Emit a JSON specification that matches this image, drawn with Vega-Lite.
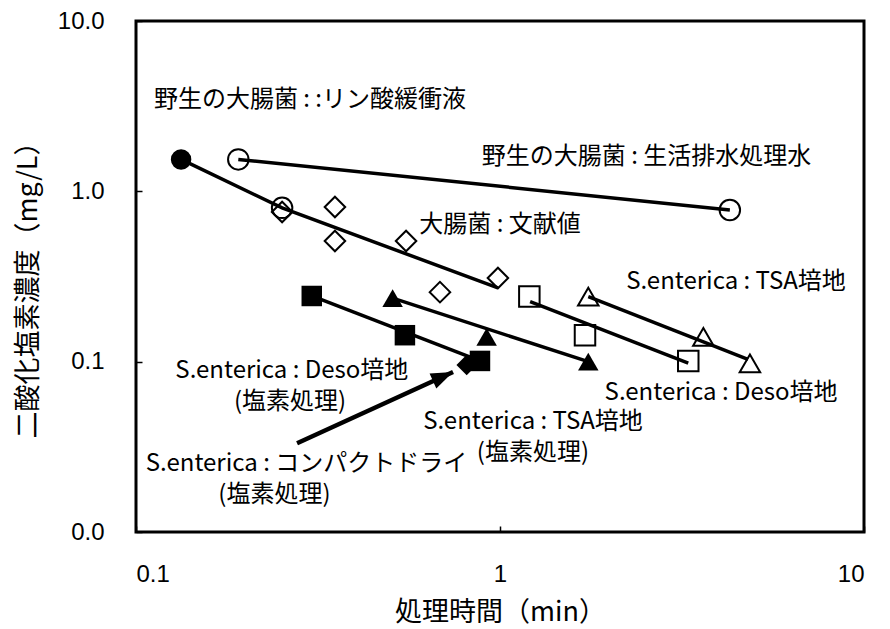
{
  "$schema": "https://vega.github.io/schema/vega-lite/v6.json",
  "autosize": {"type": "none"},
  "padding": {"left": 136, "top": 21, "right": 26, "bottom": 97},
  "width": 728,
  "height": 511,
  "background": "white",
  "config": {
    "view": {"stroke": "black", "strokeWidth": 3},
    "axis": {
      "domain": false,
      "grid": false,
      "ticks": true,
      "tickSize": -6,
      "tickColor": "black",
      "tickWidth": 1.5,
      "labelFont": "Liberation Sans",
      "labelFontSize": 24,
      "labelColor": "black",
      "titleFont": "Noto Sans CJK JP",
      "titleFontSize": 27,
      "titleFontWeight": "normal",
      "titleColor": "black"
    }
  },
  "datasets": {
    "points": [
      {"series": "野生の大腸菌:リン酸緩衝液", "x": 0.133, "y": 1.54},
      {"series": "野生の大腸菌:リン酸緩衝液", "x": 0.252, "y": 0.80},
      {"series": "野生の大腸菌:生活排水処理水", "x": 0.191, "y": 1.54},
      {"series": "野生の大腸菌:生活排水処理水", "x": 4.28, "y": 0.777},
      {"series": "大腸菌:文献値", "x": 0.252, "y": 0.756},
      {"series": "大腸菌:文献値", "x": 0.352, "y": 0.809},
      {"series": "大腸菌:文献値", "x": 0.352, "y": 0.511},
      {"series": "大腸菌:文献値", "x": 0.552, "y": 0.511},
      {"series": "大腸菌:文献値", "x": 0.684, "y": 0.256},
      {"series": "大腸菌:文献値", "x": 0.987, "y": 0.31},
      {"series": "S.enterica:TSA培地", "x": 1.748, "y": 0.241},
      {"series": "S.enterica:TSA培地", "x": 3.62, "y": 0.140},
      {"series": "S.enterica:TSA培地", "x": 4.86, "y": 0.0978},
      {"series": "S.enterica:Deso培地", "x": 1.204, "y": 0.241},
      {"series": "S.enterica:Deso培地", "x": 1.712, "y": 0.143},
      {"series": "S.enterica:Deso培地", "x": 3.29, "y": 0.101},
      {"series": "S.enterica:TSA培地(塩素処理)", "x": 0.507, "y": 0.236},
      {"series": "S.enterica:TSA培地(塩素処理)", "x": 0.919, "y": 0.140},
      {"series": "S.enterica:TSA培地(塩素処理)", "x": 1.748, "y": 0.100},
      {"series": "S.enterica:コンパクトドライ(塩素処理)", "x": 0.810, "y": 0.0956},
      {"series": "S.enterica:Deso培地(塩素処理)", "x": 0.304, "y": 0.243},
      {"series": "S.enterica:Deso培地(塩素処理)", "x": 0.548, "y": 0.143},
      {"series": "S.enterica:Deso培地(塩素処理)", "x": 0.881, "y": 0.101}
    ],
    "fits": [
      {"series": "野生の大腸菌:リン酸緩衝液", "x": 0.133, "y": 1.54},
      {"series": "野生の大腸菌:リン酸緩衝液", "x": 0.252, "y": 0.80},
      {"series": "野生の大腸菌:リン酸緩衝液", "x": 0.987, "y": 0.271},
      {"series": "野生の大腸菌:生活排水処理水", "x": 0.191, "y": 1.54},
      {"series": "野生の大腸菌:生活排水処理水", "x": 4.28, "y": 0.777},
      {"series": "S.enterica:TSA培地", "x": 1.748, "y": 0.241},
      {"series": "S.enterica:TSA培地", "x": 4.80, "y": 0.103},
      {"series": "S.enterica:Deso培地", "x": 1.21, "y": 0.225},
      {"series": "S.enterica:Deso培地", "x": 3.29, "y": 0.098},
      {"series": "S.enterica:TSA培地(塩素処理)", "x": 0.507, "y": 0.236},
      {"series": "S.enterica:TSA培地(塩素処理)", "x": 1.748, "y": 0.100},
      {"series": "S.enterica:Deso培地(塩素処理)", "x": 0.304, "y": 0.243},
      {"series": "S.enterica:Deso培地(塩素処理)", "x": 0.881, "y": 0.101}
    ],
    "arrow": [
      {"x": 0.277, "y": 0.0332, "x2": 0.743, "y2": 0.087}
    ],
    "labels": [
      {"label": "野生の大腸菌 : :リン酸緩衝液", "x": 0.3006, "y": 3.44},
      {"label": "野生の大腸菌 : 生活排水処理水", "x": 2.526, "y": 1.59},
      {"label": "大腸菌 : 文献値", "x": 1.0, "y": 0.634},
      {"label": "S.enterica : TSA培地", "x": 4.45, "y": 0.2935},
      {"label": "S.enterica : Deso培地", "x": 4.05, "y": 0.0655},
      {"label": "S.enterica : TSA培地", "x": 1.232, "y": 0.0442},
      {"label": "(塩素処理)", "x": 1.232, "y": 0.0291},
      {"label": "S.enterica : Deso培地", "x": 0.268, "y": 0.0882},
      {"label": "(塩素処理)", "x": 0.265, "y": 0.058},
      {"label": "S.enterica : コンパクトドライ", "x": 0.294, "y": 0.02507},
      {"label": "(塩素処理)", "x": 0.240, "y": 0.0165}
    ]
  },
  "encoding": {
    "x": {
      "field": "x",
      "type": "quantitative",
      "scale": {"type": "log", "domain": [0.1, 10]},
      "axis": {
        "values": [0.1, 1, 10],
        "format": "~g",
        "labelPadding": 36,
        "labelBaseline": "top",
        "title": "処理時間（min）",
        "titleBaseline": "middle",
        "titleY": 80
      }
    },
    "y": {
      "field": "y",
      "type": "quantitative",
      "scale": {"type": "log", "domain": [0.01, 10]},
      "axis": {
        "values": [0.01, 0.1, 1, 10],
        "format": ".1f",
        "labelPadding": 38,
        "title": "二酸化塩素濃度（mg/L）",
        "titleBaseline": "middle",
        "titleAngle": 270,
        "titleX": -108,
        "titleY": 262
      }
    }
  },
  "layer": [
    {
      "data": {"name": "fits"},
      "mark": {"type": "line", "color": "black", "strokeWidth": 3.5},
      "encoding": {"detail": {"field": "series"}}
    },
    {
      "data": {"name": "points"},
      "transform": [
        {"filter": "indexof(['野生の大腸菌:生活排水処理水', '大腸菌:文献値', 'S.enterica:TSA培地', 'S.enterica:Deso培地'], datum.series) >= 0 || (datum.series === '野生の大腸菌:リン酸緩衝液' && datum.x > 0.2)"}
      ],
      "mark": {"type": "point", "filled": false, "color": "black", "strokeWidth": 2, "size": 420, "opacity": 1},
      "encoding": {
        "shape": {
          "field": "series",
          "scale": {
            "domain": ["野生の大腸菌:リン酸緩衝液", "野生の大腸菌:生活排水処理水", "大腸菌:文献値", "S.enterica:TSA培地", "S.enterica:Deso培地", "S.enterica:TSA培地(塩素処理)", "S.enterica:Deso培地(塩素処理)", "S.enterica:コンパクトドライ(塩素処理)"],
            "range": ["circle", "circle", "diamond", "triangle-up", "square", "triangle-up", "square", "diamond"]
          },
          "legend": null
        }
      }
    },
    {
      "data": {"name": "points"},
      "transform": [
        {"filter": "indexof(['S.enterica:TSA培地(塩素処理)', 'S.enterica:Deso培地(塩素処理)', 'S.enterica:コンパクトドライ(塩素処理)'], datum.series) >= 0 || (datum.series === '野生の大腸菌:リン酸緩衝液' && datum.x < 0.2)"}
      ],
      "mark": {"type": "point", "filled": true, "color": "black", "size": 420, "opacity": 1},
      "encoding": {
        "shape": {"field": "series", "legend": null}
      }
    },
    {
      "data": {"name": "arrow"},
      "mark": {"type": "rule", "color": "black", "strokeWidth": 4.5},
      "encoding": {
        "x2": {"field": "x2"},
        "y2": {"field": "y2"}
      }
    },
    {
      "data": {"name": "arrow"},
      "mark": {"type": "point", "filled": true, "color": "black", "opacity": 1, "shape": "M0,0L0.75,2L-0.75,2Z", "size": 484, "angle": 66},
      "encoding": {
        "x": {"field": "x2", "type": "quantitative", "scale": {"type": "log", "domain": [0.1, 10]}},
        "y": {"field": "y2", "type": "quantitative", "scale": {"type": "log", "domain": [0.01, 10]}}
      }
    },
    {
      "data": {"name": "labels"},
      "mark": {"type": "text", "font": "Noto Sans CJK JP", "fontSize": 24, "align": "center", "baseline": "middle", "color": "black"},
      "encoding": {"text": {"field": "label"}}
    }
  ]
}
